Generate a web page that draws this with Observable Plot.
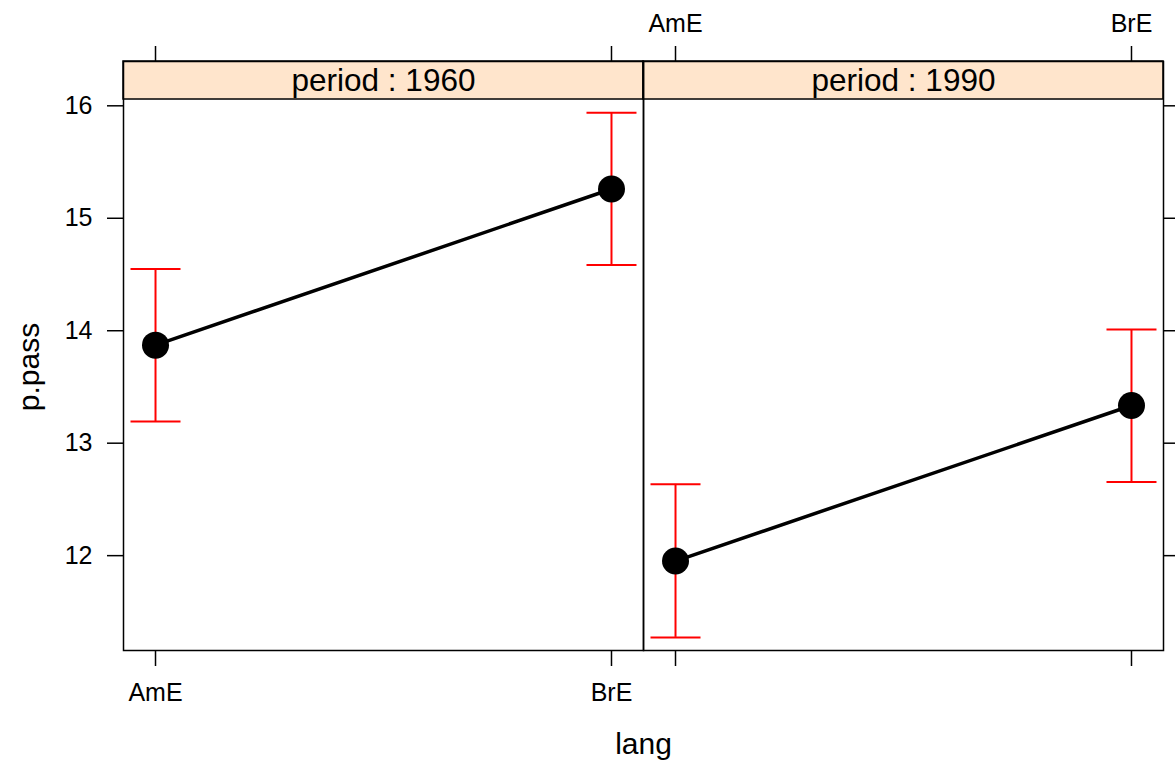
<!DOCTYPE html>
<html>
<head>
<meta charset="utf-8">
<script src="https://cdn.jsdelivr.net/npm/d3@7"></script>
<script src="https://cdn.jsdelivr.net/npm/@observablehq/plot@0.6"></script>
<style>
  html, body { margin: 0; padding: 0; background: #fff; }
  #chart svg { display: block; }
</style>
</head>
<body>
<div id="chart"></div>
<script>
// ---- data ----
const periods = ["1960", "1990"];
const langs = ["AmE", "BrE"];
const fit1960 = [13.872, 15.26];
const lower1960 = [13.193, 14.585];
const upper1960 = [14.549, 15.938];
const fit1990 = [11.952, 13.335];
const lower1990 = [11.273, 12.656];
const upper1990 = [12.634, 14.011];
const yTicks = [12, 13, 14, 15, 16];

const rows = [];
langs.forEach((l, i) => {
  rows.push({period: "1960", lang: l, fit: fit1960[i], lower: lower1960[i], upper: upper1960[i]});
  rows.push({period: "1990", lang: l, fit: fit1990[i], lower: lower1990[i], upper: upper1990[i]});
});
const xi = d => langs.indexOf(d.lang) + 1;

// ---- layout constants ----
const xDomain = [0.9298, 2.0702];
const yDomain = [11.1566, 16.394];   // bottom of panel .. top of strip
const panelTop = 16.056;             // strip bottom / panel top
const FONT = "'Liberation Sans', Arial, Helvetica, sans-serif";
const TICK_FS = 25, TITLE_FS = 30, STRIP_FS = 31.5;

const capSymbol = {
  draw(ctx, size) {
    const r = Math.sqrt(size / Math.PI);
    ctx.moveTo(-r, 0);
    ctx.lineTo(r, 0);
  }
};
const blank = () => "";
const langFmt = i => langs[i - 1];
const intFmt = d => String(d);

const chart = Plot.plot({
  width: 1175,
  height: 765,
  marginLeft: 123,
  marginRight: 12,
  marginTop: 61,
  marginBottom: 115,
  style: {fontFamily: FONT, fontSize: TICK_FS + "px", color: "black", background: "white"},
  fx: {domain: periods, padding: 0, axis: null},
  x: {domain: xDomain, axis: null},
  y: {domain: yDomain, axis: null},
  marks: [
    // strips
    Plot.rect(periods, {fx: d => d, x1: xDomain[0], x2: xDomain[1], y1: panelTop, y2: yDomain[1],
      fill: "#ffe5cc", stroke: "black", strokeWidth: 1.5}),
    Plot.text(periods, {fx: d => d, text: d => `period : ${d}`, frameAnchor: "top", dy: 19,
      lineAnchor: "middle", fontSize: STRIP_FS, fill: "black"}),
    Plot.frame({stroke: "black", strokeWidth: 1.5}),
    // y axes
    Plot.axisY({anchor: "left", ticks: yTicks, tickSize: 16, tickPadding: 15, label: null,
      tickFormat: intFmt, fontSize: TICK_FS, strokeWidth: 1.5}),
    Plot.axisY({anchor: "right", ticks: yTicks, tickSize: 13, tickFormat: blank, label: null,
      strokeWidth: 1.5}),
    // x axes (lattice alternating)
    Plot.axisX({anchor: "bottom", facetAnchor: "left", ticks: [1, 2], tickSize: 16, tickPadding: 17,
      tickFormat: langFmt, label: null, fontSize: TICK_FS, strokeWidth: 1.5}),
    Plot.axisX({anchor: "bottom", facetAnchor: "right", ticks: [1, 2], tickSize: 16,
      tickFormat: blank, label: null, strokeWidth: 1.5}),
    Plot.axisX({anchor: "top", facetAnchor: "left", ticks: [1, 2], tickSize: 16,
      tickFormat: blank, label: null, strokeWidth: 1.5}),
    Plot.axisX({anchor: "top", facetAnchor: "right", ticks: [1, 2], tickSize: 16, tickPadding: 14,
      tickFormat: langFmt, label: null, fontSize: TICK_FS, strokeWidth: 1.5}),
    // axis titles
    Plot.text(["lang"], {fx: () => "1960", frameAnchor: "bottom-right", dy: 94, textAnchor: "middle",
      lineAnchor: "middle", fontSize: TITLE_FS, fill: "black"}),
    Plot.text(["p.pass"], {fx: () => "1960", frameAnchor: "left", dx: -94, dy: 11, rotate: -90,
      textAnchor: "middle", lineAnchor: "middle", fontSize: TITLE_FS, fill: "black"}),
    // data
    Plot.line(rows, {fx: "period", x: xi, y: "fit", stroke: "black", strokeWidth: 3.5}),
    Plot.ruleX(rows, {fx: "period", x: xi, y1: "lower", y2: "upper", stroke: "red", strokeWidth: 2}),
    Plot.dot(rows, {fx: "period", x: xi, y: "upper", symbol: capSymbol, r: 25, stroke: "red", strokeWidth: 2, fill: "none"}),
    Plot.dot(rows, {fx: "period", x: xi, y: "lower", symbol: capSymbol, r: 25, stroke: "red", strokeWidth: 2, fill: "none"}),
    Plot.dot(rows, {fx: "period", x: xi, y: "fit", r: 13.5, fill: "black", stroke: "none"})
  ]
});
document.getElementById("chart").appendChild(chart);
</script>
</body>
</html>
